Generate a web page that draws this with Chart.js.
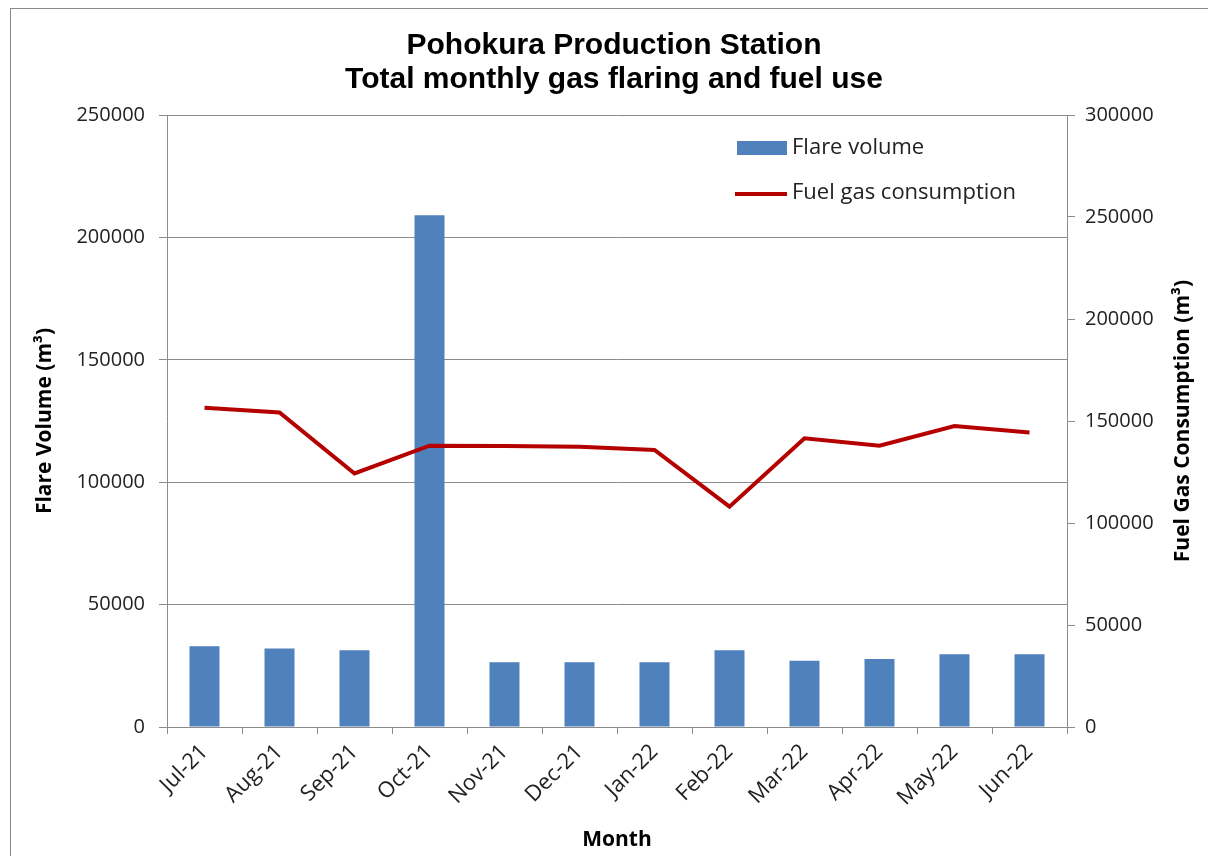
<!DOCTYPE html>
<html>
<head>
<meta charset="utf-8">
<script src="https://cdn.jsdelivr.net/npm/chart.js@4/dist/chart.umd.min.js"></script>
<style>
  html, body { margin: 0; padding: 0; background: #fff; }
  #wrap { position: relative; width: 1208px; height: 856px; overflow: hidden; }
  #frame { position: absolute; left: 10px; top: 8px; width: 1300px; height: 900px;
           border-left: 1px solid #8a8a8a; border-top: 1px solid #8a8a8a; }
  #chart { position: absolute; left: 0; top: 0; }
</style>
</head>
<body>
<div id="wrap">
  <div id="frame"></div>
  <canvas id="chart" width="1208" height="856"></canvas>
</div>
<script>
const months = ['Jul-21', 'Aug-21', 'Sep-21', 'Oct-21', 'Nov-21', 'Dec-21',
                'Jan-22', 'Feb-22', 'Mar-22', 'Apr-22', 'May-22', 'Jun-22'];
const flareVolume = [33000, 32100, 31400, 209000, 26400, 26500, 26500, 31400, 27100, 27800, 29700, 29700];
const fuelGas = [156500, 154200, 124300, 137900, 137700, 137400, 135800, 108000, 141500, 137900, 147500, 144400];
const titleLines = ['Pohokura Production Station', 'Total monthly gas flaring and fuel use'];

const axisGray = '#8c8c8c';
const textColor = '#222';

Chart.defaults.font.family = "'Open Sans', sans-serif";
Chart.defaults.color = textColor;

// main title, right axis title and the legend are drawn by hand
const extras = {
    id: 'extras',
    afterDraw(chart) {
        const ctx = chart.ctx;
        const area = chart.chartArea;
        ctx.save();

        ctx.fillStyle = '#000';
        ctx.textAlign = 'center';
        ctx.textBaseline = 'middle';
        ctx.font = "bold 30px 'Liberation Sans', Arial, sans-serif";
        ctx.fillText(titleLines[0], 614, 46);
        ctx.fillText(titleLines[1], 614, 80);

        ctx.font = "bold 21px 'Open Sans', sans-serif";
        ctx.translate(1183, (area.top + area.bottom) / 2);
        ctx.rotate(-Math.PI / 2);
        ctx.fillText('Fuel Gas Consumption (m³)', 0, 0);
        ctx.setTransform(1, 0, 0, 1, 0, 0);

        const lx = area.right - 330;
        ctx.font = "22px 'Open Sans', sans-serif";
        ctx.textAlign = 'left';
        const bar = chart.data.datasets[1];
        const line = chart.data.datasets[0];
        ctx.fillStyle = bar.backgroundColor;
        ctx.fillRect(lx, area.top + 26, 50, 14);
        ctx.fillStyle = textColor;
        ctx.fillText(bar.label, lx + 55, area.top + 33);
        ctx.strokeStyle = line.borderColor;
        ctx.lineWidth = 4;
        ctx.beginPath();
        ctx.moveTo(lx - 2, area.top + 79);
        ctx.lineTo(lx + 50, area.top + 79);
        ctx.stroke();
        ctx.fillText(line.label, lx + 55, area.top + 78);
        ctx.restore();
    }
};

new Chart(document.getElementById('chart').getContext('2d'), {
    data: {
        labels: months,
        datasets: [{
            type: 'line',
            label: 'Fuel gas consumption',
            data: fuelGas,
            yAxisID: 'y2',
            borderColor: '#B50000',
            borderWidth: 4,
            pointRadius: 0,
            tension: 0,
            order: 0
        }, {
            type: 'bar',
            label: 'Flare volume',
            data: flareVolume,
            yAxisID: 'y',
            backgroundColor: '#4F81BD',
            barPercentage: 0.4,
            categoryPercentage: 1.0,
            order: 1
        }]
    },
    options: {
        responsive: false,
        animation: false,
        layout: { padding: { top: 115, left: 0, right: 0, bottom: 0 } },
        scales: {
            x: {
                afterFit: s => { s.height = 129; },
                grid: { offset: true, drawOnChartArea: false, color: axisGray, tickLength: 7 },
                border: { color: axisGray },
                ticks: { maxRotation: 45, minRotation: 45, autoSkip: false, padding: 5,
                         font: { size: 22 }, color: textColor },
                title: { display: true, text: 'Month', font: { size: 21, weight: 'bold' },
                         color: '#000', padding: { top: 0, bottom: 3 } }
            },
            y: {
                position: 'left',
                min: 0, max: 250000,
                afterFit: s => { s.width = 167; },
                grid: { color: axisGray, tickLength: 8 },
                border: { color: axisGray },
                ticks: { stepSize: 50000, padding: 14, font: { size: 20 }, color: textColor,
                         callback: v => String(v) },
                title: { display: true, text: 'Flare Volume (m³)', font: { size: 21, weight: 'bold' },
                         color: '#000', padding: { top: 32, bottom: 0 } }
            },
            y2: {
                position: 'right',
                min: 0, max: 300000,
                afterFit: s => { s.width = 141; },
                grid: { drawOnChartArea: false, color: axisGray, tickLength: 8 },
                border: { color: axisGray },
                ticks: { stepSize: 50000, padding: 10, font: { size: 20 }, color: textColor,
                         callback: v => String(v) }
            }
        },
        plugins: {
            legend: { display: false },
            tooltip: { enabled: false }
        }
    },
    plugins: [extras]
});
</script>
</body>
</html>
